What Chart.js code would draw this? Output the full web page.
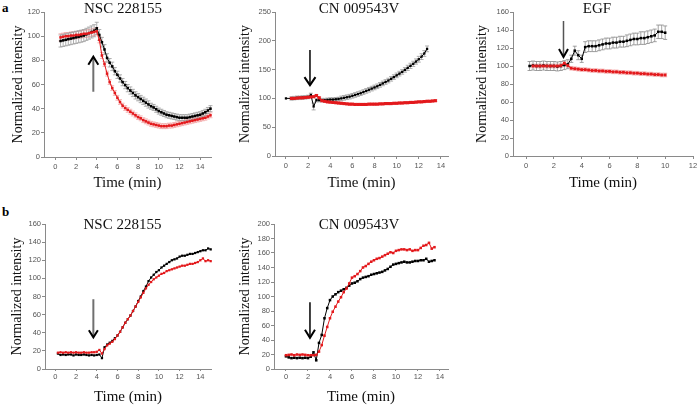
<!DOCTYPE html>
<html><head><meta charset="utf-8">
<script src="https://cdn.jsdelivr.net/npm/chart.js@4.4.1/dist/chart.umd.min.js"></script>
<style>
html,body{margin:0;padding:0;background:#fff;}
#wrap{position:relative;width:700px;height:407px;overflow:hidden;background:#fff;}
canvas{position:absolute;}
.lbl{position:absolute;font:bold 13px "Liberation Serif",serif;color:#000;}
</style></head><body>
<div id="wrap">
<div class="lbl" style="left:2px;top:0px">a</div>
<div class="lbl" style="left:2px;top:204px">b</div>
<canvas id="c1" width="215" height="195" style="left:0;top:0"></canvas>
<canvas id="c2" width="225" height="195" style="left:228px;top:0"></canvas>
<canvas id="c3" width="235" height="195" style="left:465px;top:0"></canvas>
<canvas id="c4" width="215" height="202" style="left:0;top:205px"></canvas>
<canvas id="c5" width="225" height="202" style="left:228px;top:205px"></canvas>
</div>
<script>
// ---------- Panel a, NSC 228155 ----------
const tA1 = [0.5,0.75,1,1.25,1.5,1.75,2,2.25,2.5,2.75,3,3.25,3.5,3.75,4,4.25,4.5,4.75,5,5.25,5.5,5.75,6,6.25,6.5,6.75,7,7.25,7.5,7.75,8,8.25,8.5,8.75,9,9.25,9.5,9.75,10,10.25,10.5,10.75,11,11.25,11.5,11.75,12,12.25,12.5,12.75,13,13.25,13.5,13.75,14,14.25,14.5,14.75,15];
const a1Black = [96,96.5,97,97.5,98,98.5,99,99.5,100,100.5,101.5,102.5,103.5,104.5,106.5,101,95,89,82,78,75,71,68,65,62,59.5,57,55,53,51,49.5,48,46.5,45,43.5,42,41,39.5,38,37,36,35,34.5,34,33.5,33,32.5,32.5,32.5,32.5,33,33.5,34,34.5,35,36,37,38.5,40];
const a1BlackErr = [5,5,5,5,5,5,5,5,5,5,5,5,5,5,5,4.5,4,4,3.5,3.5,3.5,3,3,3,3,3,3,3,3,3,3,3,3,3,3,2.5,2.5,2.5,2.5,2.5,2.5,2.5,2.5,2.5,2.5,2.5,2.5,2.5,2.5,2.5,2.5,2.5,2.5,2.5,2.5,2.5,2.5,2.5,2.5];
const a1Red = [99,99.5,100,100,100.5,100.5,101,101,101.5,102,102,102.5,103,103.5,104,97,84,77,69,62,57,53,49,45.5,42.5,40.5,39,37.5,36,34.5,33,32,30.5,29.5,28.5,27.5,27,26.5,26,25.5,25.5,25.5,26,26,26.5,27,27.5,28,28.5,29,29.5,30,30.5,31,31.5,32,32.5,33.5,34.5];
const a1RedErr = [3,3,3,3,3,3,3,3,3,3,3,3,3,3,3,2.5,2.5,2,2,2,2,2,2,2,2,2,2,2,2,2,2,2,2,2,2,2,2,2,2,2,2,2,2,2,2,2,2,2,2,2,2,2,2,2,2,2,2,2,2];

// ---------- Panel a, CN 009543V ----------
const tA2Black = [0,0.5,0.75,1,1.25,1.5,1.75,2,2.25,2.5,2.75,3,3.25,3.5,3.75,4,4.25,4.5,4.75,5,5.25,5.5,5.75,6,6.25,6.5,6.75,7,7.25,7.5,7.75,8,8.25,8.5,8.75,9,9.25,9.5,9.75,10,10.25,10.5,10.75,11,11.25,11.5,11.75,12,12.25,12.5,12.75];
const a2Black = [100,100,100.5,101,101,101.5,102,102.5,106,86,97,97,97,97,97.5,98,98,98.5,99,100,101,102,103,104.5,106,107.5,109,111,113,115,117,119,121,123.5,126,128.5,131,134,137,140,143,146,149.5,153,156.5,160,164,168,172.5,178,186];
const a2BlackErr = [0,3,3,3,3,3,3,3,3,6,3,3,3,3,3,3,3,3,3,4,4,4,4,4,4,4,4,4,4,4,4,4,4,4,4,4,4,4,4,4,4,4,4,4.5,4.5,4.5,4.5,5,5,5,5];
const tA2Red = [0.5,0.75,1,1.25,1.5,1.75,2,2.25,2.5,2.75,3,3.25,3.5,3.75,4,4.25,4.5,4.75,5,5.25,5.5,5.75,6,6.25,6.5,6.75,7,7.25,7.5,7.75,8,8.25,8.5,8.75,9,9.25,9.5,9.75,10,10.25,10.5,10.75,11,11.25,11.5,11.75,12,12.25,12.5,12.75,13,13.25,13.5];
const a2Red = [100,100,100.5,101,101,101.5,102,102.5,103,105,101,96,95,94,93.5,93,92.5,92,91.5,91,90.5,90,90,89.5,89.5,89.5,89.5,89.5,90,90,90,90,90.5,90.5,91,91,91,91.5,91.5,92,92,92.5,92.5,93,93,93.5,94,94,94.5,95,95,95.5,96];
const a2RedErr = [1.5,1.5,1.5,1.5,1.5,1.5,1.5,1.5,1.5,1.5,1.5,1.5,1.5,1.5,1.5,1.5,1.5,1.5,1.5,1.5,1.5,1.5,1.5,1.5,1.5,1.5,1.5,1.5,1.5,1.5,1.5,1.5,1.5,1.5,1.5,1.5,1.5,1.5,1.5,1.5,1.5,1.5,1.5,1.5,1.5,1.5,1.5,1.5,1.5,1.5,1.5,1.5,1.5];

// ---------- Panel a, EGF ----------
const tA3Black = [0.25,0.5,0.75,1,1.25,1.5,1.75,2,2.25,2.5,2.75,3,3.25,3.5,3.75,4,4.25,4.5,4.75,5,5.25,5.5,5.75,6,6.25,6.5,6.75,7,7.25,7.5,7.75,8,8.25,8.5,8.75,9,9.25,9.5,9.75,10];
const a3Black = [100,100.5,100,100,100.5,100,100,100,99.5,100,101,102,108,117,112,108,121,122,122,122,123,124,125,125,126,126,127,127,128,129,130,130,131,131,132,133,134,138,138,137];
const a3BlackErr = [5,5,5,5,5,5,5,5,5,5,5,5,4,5,5,4,6,6,6,6,6,6,6,6,6,6,6,6,6.5,6.5,6.5,6.5,7,7,7,7,7,7.5,7.5,7.5];
const tA3Red = [0.5,0.75,1,1.25,1.5,1.75,2,2.25,2.5,2.75,3,3.25,3.5,3.75,4,4.25,4.5,4.75,5,5.25,5.5,5.75,6,6.25,6.5,6.75,7,7.25,7.5,7.75,8,8.25,8.5,8.75,9,9.25,9.5,9.75,10];
const a3Red = [100,100,100,100,100,100,100,100,100.5,103,100.5,97.5,97,96.5,96,96,95.5,95,95,94.5,94.5,94,94,93.5,93.5,93,93,92.5,92.5,92,92,91.5,91.5,91,91,90.5,90.5,90,90];
const a3RedErr = [2,2,2,2,2,2,2,2,2,2,2,2,2,2,2,2,2,2,2,2,2,2,2,2,2,2,2,2,2,2,2,2,2,2,2,2,2,2,2];

// ---------- Panel b, NSC 228155 ----------
const tB1 = [0.25,0.5,0.75,1,1.25,1.5,1.75,2,2.25,2.5,2.75,3,3.25,3.5,3.75,4,4.25,4.5,4.75,5,5.25,5.5,5.75,6,6.25,6.5,6.75,7,7.25,7.5,7.75,8,8.25,8.5,8.75,9,9.25,9.5,9.75,10,10.25,10.5,10.75,11,11.25,11.5,11.75,12,12.25,12.5,12.75,13,13.25,13.5,13.75,14,14.25,14.5,14.75,15];
const b1Black = [17,15.5,16,15.5,16,16,15,16,15.5,15.5,16,15.5,15,15.5,15,15.5,16,12,24,27,29,31,34,37,41,46,51,55,59,64,69,75,80,86,91,97,101,104,107,109,112,114,116,118,120,121,122,124,125,125,126,127,127,128,129,130,131,131,133,132];
const b1Red = [18,18.5,18,18.5,18,18.5,18,18.5,18,18,18.5,18,18,18.5,18.5,19,21,17,22,26,28,30,33,37,41,46,51,55,59,64,69,74,79,84,89,93,96,99,101,103,105,106,108,109,110,111,112,113,114,114,115,116,116,117,118,120,122,119,120,119];

// ---------- Panel b, CN 009543V ----------
const tB2 = [0,0.25,0.5,0.75,1,1.25,1.5,1.75,2,2.25,2.5,2.75,3,3.25,3.5,3.75,4,4.25,4.5,4.75,5,5.25,5.5,5.75,6,6.25,6.5,6.75,7,7.25,7.5,7.75,8,8.25,8.5,8.75,9,9.25,9.5,9.75,10,10.25,10.5,10.75,11,11.25,11.5,11.75,12,12.25,12.5,12.75,13,13.25,13.5];
const b2Black = [17.5,16,15,15.5,15,15.5,15,15.5,15,17,23,12,36,47,70,84,95,100,103,106,108,110,112,115,118,119,121,124,126,127,128,130,131,132,133,134,136,138,141,144,145,146,147,148,147,147,148,149,149,150,150,152,148,149,150];
const b2Red = [19,19.5,20,19,20,19.5,20,19.5,19,19,19,19.5,24,33,46,58,70,79,86,93,99,106,111,118,126,128,131,135,140,142,145,148,150,152,153,155,157,159,161,160,163,164,165,165,164,165,163,164,164,167,170,171,174,166,168];

// ---------- Tick labels ----------
const xTicks14 = [0,2,4,6,8,10,12,14];
const xTicks12 = [0,2,4,6,8,10,12];

// ---------- Stimulus arrows: [time, tail value, tip value] ----------
const arrowA1 = [3.67, 54, 83];
const arrowA2 = [2.17, 184, 123];
const arrowA3 = [2.69, 150, 110];
const arrowB1 = [3.67, 77, 35];
const arrowB2 = [2.18, 92, 43];

const RED = '#e3191c';
const BLACK = '#000000';
const SERIF = '"Liberation Serif", "Times New Roman", serif';
const SANS = '"Liberation Sans", Arial, sans-serif';

const errorBars = {
  id: 'errorBars',
  beforeDatasetsDraw(chart) {
    const ctx = chart.ctx, xs = chart.scales.x, ys = chart.scales.y;
    chart.data.datasets.forEach(ds => {
      if (!ds.errors) return;
      ctx.save();
      ctx.strokeStyle = ds.errorColor;
      ctx.lineWidth = 0.8;
      const cap = ds.errorCap;
      ds.data.forEach((p, i) => {
        const e = ds.errors[i];
        if (!e) return;
        const px = xs.getPixelForValue(p.x);
        const y1 = ys.getPixelForValue(p.y + e), y2 = ys.getPixelForValue(p.y - e);
        ctx.beginPath();
        ctx.moveTo(px, y1); ctx.lineTo(px, y2);
        ctx.moveTo(px - cap, y1); ctx.lineTo(px + cap, y1);
        ctx.moveTo(px - cap, y2); ctx.lineTo(px + cap, y2);
        ctx.stroke();
      });
      ctx.restore();
    });
  }
};

const arrowPlugin = {
  id: 'stimArrow',
  afterDatasetsDraw(chart, args, o) {
    if (!o || !o.at) return;
    const ctx = chart.ctx, xs = chart.scales.x, ys = chart.scales.y;
    const px = xs.getPixelForValue(o.at[0]);
    const yTail = ys.getPixelForValue(o.at[1]);
    const yTip = ys.getPixelForValue(o.at[2]);
    const dir = Math.sign(yTip - yTail);
    ctx.save();
    ctx.lineCap = 'butt';
    ctx.strokeStyle = o.shaft; ctx.lineWidth = o.shaftWidth;
    ctx.beginPath(); ctx.moveTo(px, yTail); ctx.lineTo(px, yTip - dir * 1); ctx.stroke();
    ctx.strokeStyle = o.head; ctx.lineWidth = o.headWidth;
    ctx.lineJoin = 'miter';
    ctx.beginPath();
    ctx.moveTo(px - o.hw, yTip - dir * o.hh);
    ctx.lineTo(px, yTip);
    ctx.lineTo(px + o.hw, yTip - dir * o.hh);
    ctx.stroke();
    ctx.restore();
  }
};

const titlePlugin = {
  id: 'panelTitle',
  afterDraw(chart, args, o) {
    if (!o || !o.text) return;
    const ctx = chart.ctx;
    ctx.save();
    ctx.font = '15px ' + SERIF;
    ctx.fillStyle = '#111';
    ctx.textAlign = 'center';
    ctx.textBaseline = 'middle';
    ctx.fillText(o.text, o.x, o.y);
    ctx.restore();
  }
};

function series(t, v, err, color, errColor, pr, lw) {
  return {
    data: t.map((x, i) => ({x: x, y: v[i]})),
    errors: err, errorColor: errColor, errorCap: 2,
    showLine: true, borderColor: color, backgroundColor: color,
    borderWidth: lw, pointRadius: pr, pointHoverRadius: pr,
    pointStyle: 'rect', pointBorderWidth: 0, clip: false
  };
}

function makeChart(id, c) {
  new Chart(document.getElementById(id), {
    type: 'scatter',
    data: {datasets: c.datasets},
    options: {
      responsive: false, animation: false, events: [],
      layout: {padding: {top: c.padTop, right: c.padRight, left: 0, bottom: 0}},
      plugins: {
        legend: {display: false}, tooltip: {enabled: false},
        panelTitle: c.title, stimArrow: c.arrow
      },
      scales: {
        x: {
          type: 'linear', min: c.xMin, max: c.xMax,
          afterBuildTicks: s => { s.ticks = c.xTicks.map(v => ({value: v})); },
          afterFit: s => { s.height = c.xH; },
          grid: {display: true, drawOnChartArea: false, drawTicks: true, tickLength: c.xTickLen, color: '#8a8a8a', lineWidth: 1},
          border: {display: true, color: '#8a8a8a', width: 1},
          ticks: {font: {size: 7.5, family: SANS}, color: '#555', padding: c.xTickPad, maxRotation: 0, autoSkip: false},
          title: {display: true, text: 'Time (min)', font: {family: SERIF, size: 15}, color: '#111', padding: {top: 0, bottom: c.xTitlePad}}
        },
        y: {
          type: 'linear', min: 0, max: c.yMax,
          ticks: {stepSize: c.yStep, font: {size: 7.5, family: SANS}, color: '#555', padding: 1},
          afterFit: s => { s.width = c.yW; },
          grid: {display: true, drawOnChartArea: false, drawTicks: true, tickLength: 3, color: '#8a8a8a', lineWidth: 1},
          border: {display: true, color: '#8a8a8a', width: 1},
          title: {display: true, text: 'Normalized intensity', font: {family: SERIF, size: 14}, color: '#111', padding: {top: c.yTitlePad, bottom: 0}}
        }
      }
    },
    plugins: [errorBars, arrowPlugin, titlePlugin]
  });
}

// a: NSC 228155
makeChart('c1', {
  datasets: [
    series(tA1, a1Red, a1RedErr, RED, '#f3a5a5', 1.8, 1),
    series(tA1, a1Black, a1BlackErr, BLACK, '#9a9a9a', 1.8, 1)
  ],
  padTop: 12, padRight: 4, xMin: -1.1, xMax: 15.05, xTicks: xTicks14, xH: 38, xTickLen: 3, xTickPad: 2, xTitlePad: 3,
  yMax: 120, yStep: 20, yW: 44, yTitlePad: 10,
  title: {text: 'NSC 228155', x: 123, y: 9},
  arrow: {at: arrowA1, shaft: '#707070', shaftWidth: 2, head: '#000', headWidth: 2, hw: 5, hh: 8}
});

// a: CN 009543V
makeChart('c2', {
  datasets: [
    series(tA2Red, a2Red, a2RedErr, RED, '#f08a8a', 2.2, 1.6),
    series(tA2Black, a2Black, a2BlackErr, BLACK, '#9a9a9a', 1.6, 1)
  ],
  padTop: 12, padRight: 5, xMin: -0.99, xMax: 14.64, xTicks: xTicks14, xH: 39, xTickLen: 3, xTickPad: 2, xTitlePad: 3,
  yMax: 250, yStep: 50, yW: 47, yTitlePad: 9,
  title: {text: 'CN 009543V', x: 131, y: 9},
  arrow: {at: arrowA2, shaft: '#000', shaftWidth: 1.5, head: '#000', headWidth: 2, hw: 5.5, hh: 8}
});

// a: EGF
makeChart('c3', {
  datasets: [
    series(tA3Red, a3Red, a3RedErr, RED, '#f3a5a5', 2, 1.2),
    series(tA3Black, a3Black, a3BlackErr, BLACK, '#8a8a8a', 1.8, 1)
  ],
  padTop: 12, padRight: 7, xMin: -0.94, xMax: 12, xTicks: xTicks12, xH: 39, xTickLen: 3, xTickPad: 2, xTitlePad: 3,
  yMax: 160, yStep: 20, yW: 48, yTitlePad: 9,
  title: {text: 'EGF', x: 132, y: 9},
  arrow: {at: arrowA3, shaft: '#555', shaftWidth: 1.5, head: '#000', headWidth: 2, hw: 4.5, hh: 8}
});

// b: NSC 228155
makeChart('c4', {
  datasets: [
    series(tB1, b1Red, null, RED, null, 1.6, 1),
    series(tB1, b1Black, null, BLACK, null, 1.6, 1)
  ],
  padTop: 19, padRight: 4, xMin: -1, xMax: 15.03, xTicks: xTicks14, xH: 38, xTickLen: 2, xTickPad: 1, xTitlePad: 1,
  yMax: 160, yStep: 20, yW: 45, yTitlePad: 9,
  title: {text: 'NSC 228155', x: 122.5, y: 20},
  arrow: {at: arrowB1, shaft: '#707070', shaftWidth: 2, head: '#000', headWidth: 2, hw: 4.5, hh: 7}
});

// b: CN 009543V
makeChart('c5', {
  datasets: [
    series(tB2, b2Red, null, RED, null, 1.8, 1),
    series(tB2, b2Black, null, BLACK, null, 1.8, 1)
  ],
  padTop: 19, padRight: 5, xMin: -1.09, xMax: 14.73, xTicks: xTicks14, xH: 38, xTickLen: 2, xTickPad: 1, xTitlePad: 1,
  yMax: 200, yStep: 20, yW: 46, yTitlePad: 9,
  title: {text: 'CN 009543V', x: 131, y: 20},
  arrow: {at: arrowB2, shaft: '#000', shaftWidth: 1.5, head: '#000', headWidth: 2, hw: 5, hh: 8}
});
</script>
</body></html>
